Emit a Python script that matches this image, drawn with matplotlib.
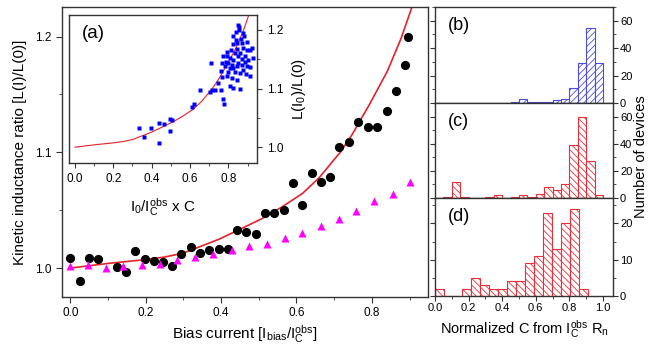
import matplotlib
matplotlib.use("Agg")
import matplotlib.pyplot as plt
from matplotlib.ticker import MultipleLocator
import numpy as np

plt.rcParams['font.family'] = ['Liberation Sans', 'DejaVu Sans']
plt.rcParams['mathtext.fontset'] = 'custom'
plt.rcParams['mathtext.rm'] = 'Liberation Sans'
plt.rcParams['mathtext.it'] = 'Liberation Sans:italic'
plt.rcParams['hatch.linewidth'] = 0.6

# ---------------- data ----------------
# main panel: black circles
circ_x = [0.0, 0.025, 0.049, 0.073, 0.123, 0.147, 0.171, 0.197, 0.222, 0.245,
          0.270, 0.295, 0.320, 0.344, 0.369, 0.394, 0.419, 0.443, 0.467, 0.492,
          0.517, 0.541, 0.566, 0.591, 0.615, 0.640, 0.665, 0.690, 0.714, 0.739,
          0.764, 0.789, 0.813, 0.839, 0.864, 0.887, 0.896]
circ_y = [1.0086, 0.989, 1.0083, 1.0075, 1.0009, 0.997, 1.0144, 1.008, 1.0057, 1.0052,
          1.002, 1.0124, 1.0178, 1.0129, 1.0152, 1.0164, 1.0164, 1.0328, 1.0313, 1.0296,
          1.0477, 1.0477, 1.0506, 1.0733, 1.0543, 1.0822, 1.0741, 1.079, 1.1046, 1.1089,
          1.1261, 1.1218, 1.1218, 1.1355, 1.1526, 1.1759, 1.1994]
# main panel: magenta triangles
tri_x = [0.0, 0.047, 0.094, 0.141, 0.189, 0.237, 0.284, 0.332, 0.379, 0.428,
         0.474, 0.522, 0.570, 0.616, 0.664, 0.712, 0.759, 0.807, 0.855, 0.902]
tri_y = [1.0014, 1.003, 1.0, 1.0014, 1.003, 1.0034, 1.007, 1.0095, 1.012, 1.016,
         1.0187, 1.0207, 1.0256, 1.0307, 1.0365, 1.0428, 1.0489, 1.0578, 1.064, 1.0744]
# fitted curve
fit_x = [0.0, 0.1, 0.19, 0.25, 0.30, 0.34, 0.395, 0.45, 0.51, 0.56, 0.616, 0.66,
         0.716, 0.747, 0.793, 0.841, 0.877, 0.908]
fit_y = [1.0, 1.004, 1.007, 1.0095, 1.013, 1.018, 1.025, 1.0335, 1.043, 1.0525, 1.0645, 1.078,
         1.100, 1.115, 1.141, 1.170, 1.198, 1.227]
# inset: blue squares
sq_x = [0.336, 0.360, 0.395, 0.438, 0.438, 0.464, 0.496, 0.504, 0.496, 0.610,
        0.623, 0.654, 0.703, 0.717, 0.732, 0.746, 0.763, 0.708, 0.770, 0.777,
        0.763, 0.767, 0.809, 0.826, 0.861,
        0.850, 0.857, 0.826, 0.875, 0.883, 0.840, 0.823, 0.870, 0.896, 0.913,
        0.922, 0.791, 0.809, 0.774, 0.835, 0.861, 0.887, 0.904, 0.852, 0.817,
        0.783, 0.870, 0.896, 0.835, 0.800, 0.861, 0.892, 0.913, 0.817, 0.843,
        0.910, 0.791, 0.878, 0.843, 0.812, 0.870, 0.826, 0.800, 0.843, 0.874,
        0.857, 0.840, 0.896, 0.887, 0.788, 0.826, 0.852, 0.809, 0.765, 0.930,
        0.791, 0.865, 0.843]
sq_y = [1.0334, 1.018, 1.032, 1.042, 1.0068, 1.039, 1.0487, 1.046, 1.028, 1.069,
        1.073, 1.098, 1.0935, 1.097, 1.0975, 1.110, 1.098, 1.143, 1.082, 1.073,
        1.130, 1.119, 1.104, 1.101, 1.100,
        1.2085, 1.2045, 1.190, 1.195, 1.190, 1.182, 1.176, 1.177, 1.180, 1.166,
        1.169, 1.155, 1.152, 1.155, 1.160, 1.160, 1.155, 1.149, 1.143, 1.141,
        1.138, 1.141, 1.138, 1.129, 1.129, 1.126, 1.124, 1.137, 1.118, 1.115,
        1.121, 1.121, 1.169, 1.167, 1.166, 1.150, 1.149, 1.143, 1.138, 1.132,
        1.200, 1.197, 1.166, 1.146, 1.146, 1.135, 1.155, 1.135, 1.143, 1.152,
        1.163, 1.184, 1.177]
# histograms
hist_b_edges = [0.45, 0.50, 0.55, 0.60, 0.65, 0.70, 0.75, 0.80, 0.85, 0.90, 0.95, 1.00]
hist_b_counts = [1, 3, 1, 1, 1, 2, 3, 11, 29, 55, 29]
hist_c_edges = [0.0, 0.05, 0.10, 0.15, 0.20, 0.25, 0.30, 0.35, 0.40, 0.45, 0.50,
                0.55, 0.60, 0.65, 0.70, 0.75, 0.80, 0.85, 0.90, 0.95, 1.00]
hist_c_counts = [0, 1, 12, 1, 0, 0, 1, 2, 0, 1, 2, 1, 3, 8, 6, 10, 39, 60, 27, 2]
hist_d_edges = [0.0, 0.0535, 0.107, 0.1605, 0.214, 0.2675, 0.321, 0.3745, 0.428,
                0.4815, 0.535, 0.5885, 0.642, 0.6955, 0.749, 0.8025, 0.856, 0.91]
hist_d_counts = [2, 0, 0, 2, 5, 3, 2, 2, 4, 4, 9, 11, 23, 13, 20, 24, 2]

# ---------------- figure ----------------
W, H = 649, 347
fig = plt.figure(figsize=(W / 100, H / 100), dpi=100)

def box(l, t, r, b):
    return [l / W, 1 - b / H, (r - l) / W, (b - t) / H]

SPINE = '#333333'
RED = '#e8202a'

def style_spines(ax, lw=1.0):
    for s in ax.spines.values():
        s.set_color(SPINE)
        s.set_linewidth(lw)

fmt1 = plt.FuncFormatter(lambda v, p: f"{v:.1f}")

# main axes
ax = fig.add_axes(box(62, 7, 428, 297))
style_spines(ax)
ax.plot(fit_x, fit_y, color=RED, lw=1.2, zorder=2)
ax.plot(circ_x, circ_y, 'o', color='black', ms=5.6, zorder=3)
ax.plot(tri_x, tri_y, '^', color='#ff00ff', ms=5.8, mec='none', zorder=3)
ax.set_xlim(-0.022, 0.949)
ax.set_ylim(0.975, 1.2256)
ax.xaxis.set_major_locator(MultipleLocator(0.2))
ax.xaxis.set_minor_locator(MultipleLocator(0.1))
ax.yaxis.set_major_locator(MultipleLocator(0.1))
ax.yaxis.set_minor_locator(MultipleLocator(0.05))
ax.xaxis.set_major_formatter(fmt1)
ax.yaxis.set_major_formatter(fmt1)
ax.tick_params(which='both', direction='out', color=SPINE, labelsize=8.5, top=False, right=False)
ax.tick_params(which='major', length=4)
ax.tick_params(which='minor', length=2.5)
ax.set_xlabel(r"Bias current [I$_{\mathregular{bias}}$/I$_{\mathregular{C}}^{\mathregular{obs}}$]",
              fontsize=11, labelpad=3)
ax.set_ylabel("Kinetic inductance ratio [L(I)/L(0)]", fontsize=11, labelpad=6)

# inset
ins = fig.add_axes(box(69, 15, 257, 163))
style_spines(ins)
ins.plot(fit_x, fit_y, color=RED, lw=0.8, zorder=2)
ins.plot(sq_x, sq_y, 's', color='#0000ff', ms=3.0, mec='none', zorder=3)
ins.set_xlim(-0.031, 0.949)
ins.set_ylim(0.973, 1.2255)
ins.xaxis.set_major_locator(MultipleLocator(0.2))
ins.xaxis.set_minor_locator(MultipleLocator(0.1))
ins.yaxis.set_major_locator(MultipleLocator(0.1))
ins.yaxis.set_minor_locator(MultipleLocator(0.05))
ins.xaxis.set_major_formatter(fmt1)
ins.yaxis.set_major_formatter(fmt1)
ins.yaxis.tick_right()
ins.yaxis.set_label_position('right')
ins.tick_params(which='both', direction='out', color=SPINE, labelsize=8.5,
                left=False, right=True, top=False, bottom=True)
ins.tick_params(which='major', length=3.5)
ins.tick_params(which='minor', length=2)
ins.set_xlabel(r"I$_{\mathregular{0}}$/I$_{\mathregular{C}}^{\mathregular{obs}}$ x C", fontsize=11, labelpad=8)
ins.set_ylabel(r"L(I$_{\mathregular{0}}$)/L(0)", fontsize=11, labelpad=5)
ins.text(0.07, 0.93, "(a)", transform=ins.transAxes, fontsize=13.5, va='top', ha='left')

# histograms
BLUE_H = '#4a4ae6'
RED_H = '#e8303a'
panels = [
    (box(435, 7, 613, 103), hist_b_edges, hist_b_counts, BLUE_H, '/////', 70, 20, 10, "(b)"),
    (box(435, 103, 613, 198), hist_c_edges, hist_c_counts, RED_H, '\\\\\\\\\\', 70, 20, 10, "(c)"),
    (box(435, 198, 613, 296), hist_d_edges, hist_d_counts, RED_H, '\\\\\\\\\\', 27, 10, 5, "(d)"),
]
haxes = []
for i, (rect, edges, counts, col, hatch, ytop, ymaj, ymin, lab) in enumerate(panels):
    h = fig.add_axes(rect)
    style_spines(h)
    widths = np.diff(edges)
    h.bar(edges[:-1], counts, width=widths, align='edge', facecolor='white',
          edgecolor=col, hatch=hatch, linewidth=0.8)
    h.set_xlim(0, 1.06)
    h.set_ylim(0, ytop)
    h.xaxis.set_major_locator(MultipleLocator(0.2))
    h.xaxis.set_minor_locator(MultipleLocator(0.1))
    h.yaxis.set_major_locator(MultipleLocator(ymaj))
    h.yaxis.set_minor_locator(MultipleLocator(ymin))
    h.yaxis.tick_right()
    h.tick_params(which='both', direction='out', color=SPINE, labelsize=8,
                  left=True, right=True, top=False, bottom=True, labelleft=False,
                  labelright=True, pad=1.5)
    h.tick_params(which='major', length=3.5)
    h.tick_params(which='minor', length=2)
    if i < 2:
        h.tick_params(labelbottom=False)
    else:
        h.xaxis.set_major_formatter(fmt1)
    h.text(0.07, 0.9, lab, transform=h.transAxes, fontsize=13, va='top', ha='left')
    haxes.append(h)

haxes[2].set_xlabel(r"Normalized C from I$_{\mathregular{C}}^{\mathregular{obs}}$ R$_{\mathregular{n}}$",
                    fontsize=10.5, labelpad=4)
fig.text(0.988, 0.548, "Number of devices", rotation=90, ha='center', va='center', fontsize=10.5)

fig.savefig("out.png", dpi=100)
